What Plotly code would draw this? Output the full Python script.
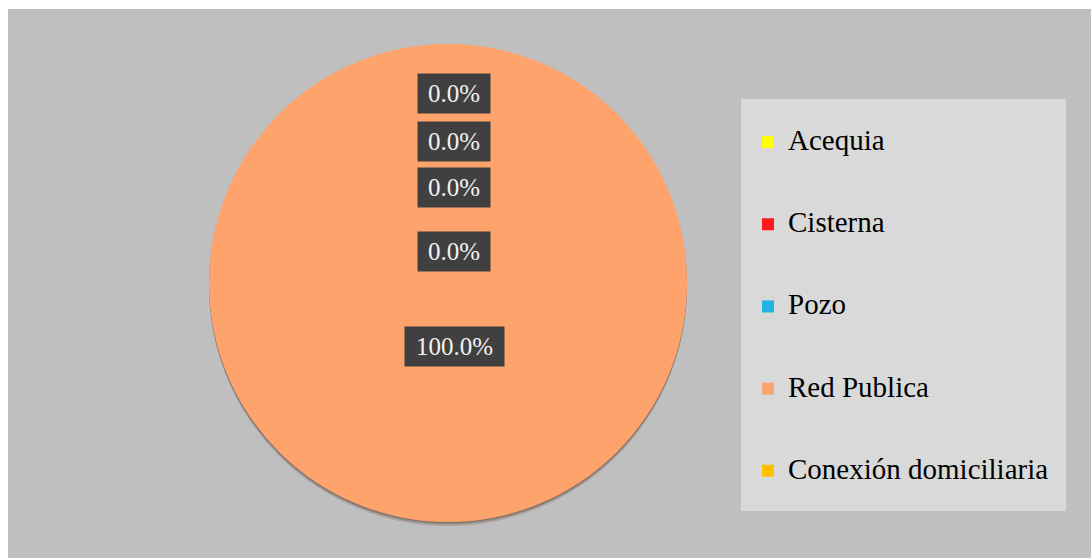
import plotly.graph_objects as go

# Water supply categories and their shares (%)
categories = ["Acequia", "Cisterna", "Pozo", "Red Publica", "Conexión domiciliaria"]
values = [0.0, 0.0, 0.0, 100.0, 0.0]
colors = ["#ffff00", "#ff1a1a", "#1fb4e6", "#ffa36c", "#ffc000"]

# Radial placement of each data label (fraction of radius, negative = above centre)
label_radial = [-0.793, -0.593, -0.400, 0.264, -0.130]

W, H = 1091, 558
SERIF = "Liberation Serif, Times New Roman, serif"


def px(x):
    return x / W


def py(y):
    return 1 - y / H


# Pie geometry in pixels
cx, cy, R = 448, 283, 239

# Legend entries padded with blank lines so rows are spaced like the panel
legend_labels = [f"&nbsp;<br><span style='font-size:29px'>{c}</span><br>&nbsp;" for c in categories]

fig = go.Figure(go.Pie(
    labels=legend_labels,
    values=values,
    customdata=categories,
    marker=dict(colors=colors, line=dict(width=0)),
    textinfo="none",
    hovertemplate="%{customdata}: %{percent}<extra></extra>",
    sort=False,
    direction="clockwise",
    rotation=0,
    domain=dict(x=[px(cx - R), px(cx + R)], y=[py(cy + R), py(cy - R)]),
    showlegend=True,
))

# Gray plot area and legend panel
shapes = [
    dict(type="rect", xref="paper", yref="paper", x0=px(8), x1=1.0, y0=0.0, y1=py(9),
         fillcolor="#bfbfbf", line=dict(width=0), layer="below"),
    dict(type="rect", xref="paper", yref="paper", x0=px(741), x1=px(1066), y0=py(511), y1=py(99),
         fillcolor="#d9d9d9", line=dict(width=0), layer="below"),
]
# Soft drop shadow under the pie
for off, op in [(4, 0.25), (2.5, 0.35), (1.2, 0.5)]:
    shapes.append(dict(type="circle", xref="paper", yref="paper",
                       x0=px(cx - R), x1=px(cx + R), y0=py(cy + R + off), y1=py(cy - R + off),
                       fillcolor="#6e5a4e", opacity=op, line=dict(width=0), layer="below"))

# Data labels
total = sum(values)
annotations = []
for cat, val, r in zip(categories, values, label_radial):
    txt = f"{val / total * 100:.1f}%"
    annotations.append(dict(
        x=px(cx + 6), y=py(cy + r * R), xref="paper", yref="paper",
        text=txt, showarrow=False,
        font=dict(family=SERIF, size=25, color="#f2f2f2"),
        bgcolor="#404040", borderpad=3, width=13.5 * len(txt) + 12, height=33,
        xanchor="center", yanchor="middle",
    ))

fig.update_layout(
    width=W, height=H,
    margin=dict(l=0, r=0, t=0, b=0),
    paper_bgcolor="#ffffff",
    plot_bgcolor="#ffffff",
    shapes=shapes,
    annotations=annotations,
    legend=dict(
        x=px(748), y=py(96), xanchor="left", yanchor="top",
        bgcolor="rgba(0,0,0,0)",
        font=dict(family=SERIF, size=20.3, color="#000000"),
    ),
)

fig.write_html("out.html")
